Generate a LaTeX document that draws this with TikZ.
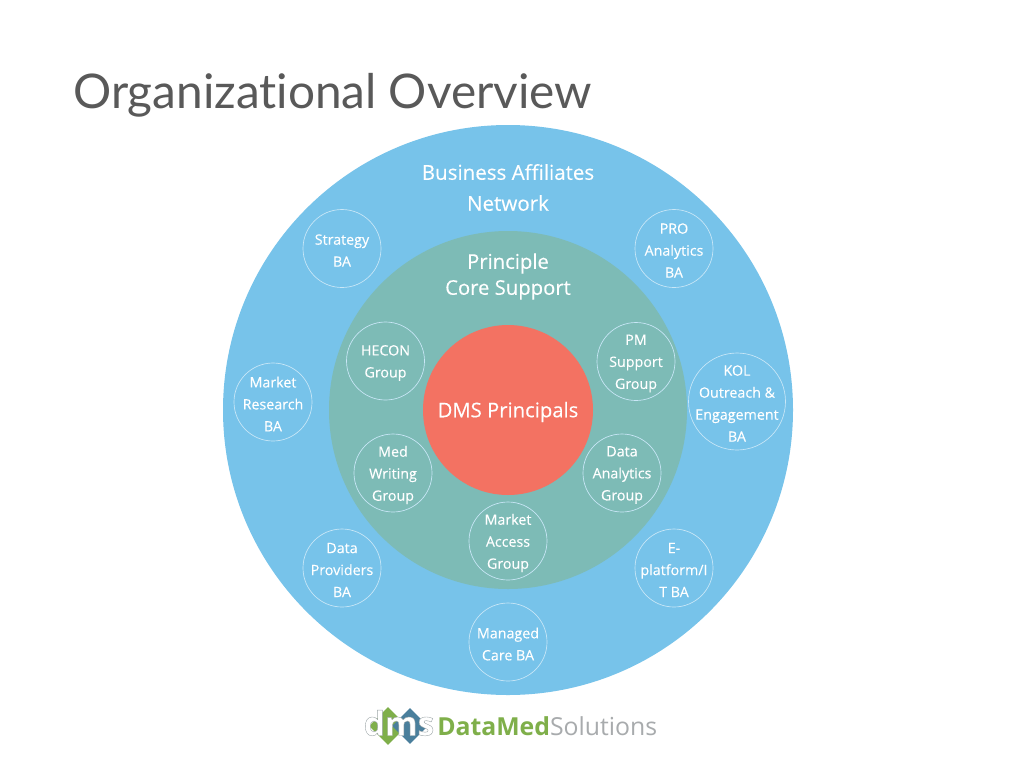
\documentclass[tikz,border=0pt]{standalone}
\usepackage{fontspec}
\setmainfont{Open Sans}[Ligatures=NoCommon]
\newfontfamily\titlefont{Lato}[Ligatures=NoCommon]
\newfontfamily\medfont{Open Sans}[Ligatures=NoCommon,FakeBold=0.25]
\definecolor{outerblue}{HTML}{77C3EA}
\definecolor{midgreen}{HTML}{7DBBB6}
\definecolor{corered}{HTML}{F37262}
\definecolor{titlegrey}{HTML}{595959}
\definecolor{logogreen}{HTML}{7FAF4A}
\definecolor{logoblue}{HTML}{4A7F9C}
\definecolor{logogrey}{HTML}{A8ABAD}
\newdimen\pxu \pxu=0.75pt
\usetikzlibrary{shapes.geometric}
\tikzset{
  disc/.style={circle,inner sep=0pt,draw=none},
  unit/.style={circle,inner sep=0pt,minimum size=78\pxu,draw=white!60!outerblue,line width=0.5pt},
  unittext/.style={align=center,text=white,inner sep=0pt,yshift=-1.5pt,font=\medfont\fontsize{10.7}{16.5}\selectfont},
  heading/.style={align=center,text=white,inner sep=0pt},
  diam/.style={diamond,inner sep=0pt,draw=none},
}
\begin{document}
\begin{tikzpicture}[x=0.75pt,y=-0.75pt]
\useasboundingbox (0,0) rectangle (1024,768);
\fill[white] (0,0) rectangle (1024,768);
\node[anchor=west,inner sep=0pt,text=titlegrey,font=\titlefont\fontsize{35.8}{40}\selectfont] (title) at (73,95) {Organizational Overview};
\node[disc,fill=outerblue,minimum size=570\pxu] (outer) at (508,410) {};
\node[disc,fill=midgreen,minimum size=358\pxu] (mid) at (508,410) {};
\node[disc,fill=corered,minimum size=170\pxu,label={[heading,yshift=-1.5pt,font=\medfont\fontsize{15.2}{18}\selectfont]center:DMS Principals}] (core) at (508,410) {};
\node[heading,font=\medfont\fontsize{15.4}{23.2}\selectfont] (ban) at (508,187.5) {Business Affiliates\\Network};
\node[heading,font=\medfont\fontsize{15.2}{19.5}\selectfont] (pcs) at (508,276.5) {Principle\\Core Support};
\node[unit,label={[unittext]center:Strategy\\BA}] (strategy) at (342,248.5) {};
\node[unit,label={[unittext]center:PRO\\Analytics\\BA}] (pro) at (674,248.5) {};
\node[unit,label={[unittext]center:PM\\Support\\Group}] (pm) at (636,361.5) {};
\node[unit,minimum size=97\pxu,label={[unittext]center:KOL\\Outreach \&\\Engagement\\BA}] (kol) at (737,401.5) {};
\node[unit,label={[unittext]center:Market\\Research\\BA}] (research) at (273,402) {};
\node[unit,label={[unittext]center:HECON\\Group}] (hecon) at (385.5,361) {};
\node[unit,label={[unittext]center:Med\\Writing\\Group}] (writing) at (393,473) {};
\node[unit,label={[unittext]center:Data\\Analytics\\Group}] (analytics) at (622,473) {};
\node[unit,label={[unittext]center:Market\\Access\\Group}] (access) at (508,541) {};
\node[unit,label={[unittext]center:Data\\Providers\\BA}] (providers) at (342,568) {};
\node[unit,label={[unittext]center:E-\\platform/I\\T BA}] (eplat) at (674,568) {};
\node[unit,label={[unittext]center:Managed\\Care BA}] (managed) at (508,642) {};
% logo
\node[diam,fill=logogreen,minimum size=38\pxu] (dg) at (388,726) {};
\node[diam,fill=logoblue,minimum size=36\pxu] (db) at (410,726) {};
\node[inner sep=0pt,text=white,font=\fontsize{25}{26}\bfseries\selectfont] (dmstxt) at (399,723) {\special{pdf:code 2 Tr 0.3 w 0.62 0.65 0.66 RG}dms\special{pdf:code 0 Tr}};
\node[anchor=west,inner sep=0pt,font=\fontsize{18.6}{20}\selectfont] (brand) at (437,726) {\textcolor{logogreen}{\textbf{DataMed}}\textcolor{logogrey}{Solutions}};
\end{tikzpicture}
\end{document}
